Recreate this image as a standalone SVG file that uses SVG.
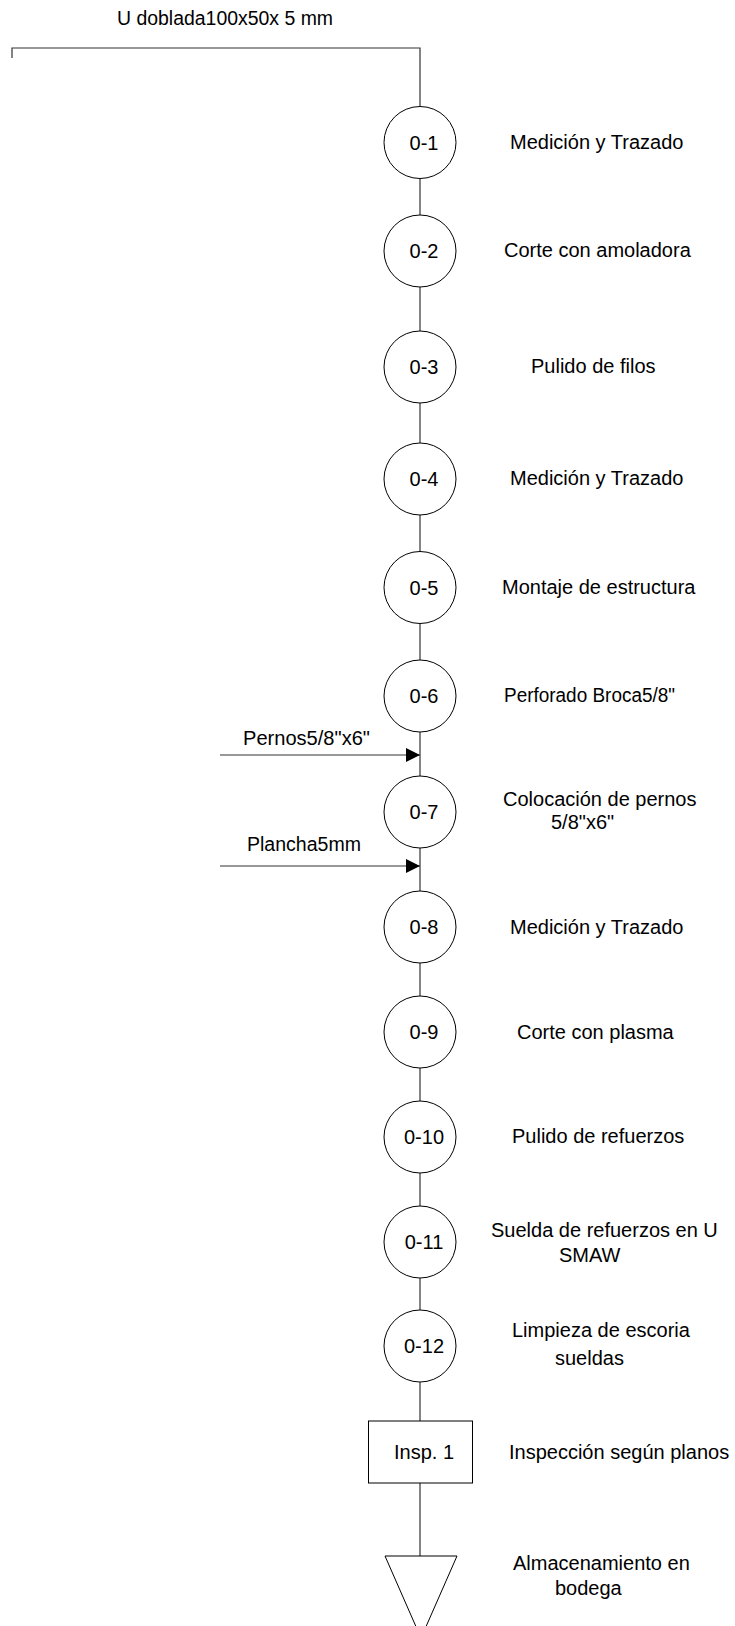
<svg xmlns="http://www.w3.org/2000/svg" width="735" height="1626" viewBox="0 0 735 1626">
  <defs>
    <style>
      text { font-family: "Liberation Sans", Arial, sans-serif; font-size: 20px; fill: #000; }
      .op { fill: #fff; stroke: #000; stroke-width: 1; }
      .code { text-anchor: middle; }
      .flow { fill: none; stroke: #333; stroke-width: 1.2; }
    </style>
    <marker id="arrowhead" markerUnits="userSpaceOnUse" markerWidth="14" markerHeight="14" refX="14" refY="7" orient="auto">
      <path d="M0,0 L14,7 L0,14 Z" fill="#000"/>
    </marker>
  </defs>

  <rect width="735" height="1626" fill="#fff"/>

  <!-- main flow line and material inputs -->
  <g id="connectors">
    <path class="flow" d="M12,58 V48 H420 V106.5"/>
    <line class="flow" x1="420" y1="178.5" x2="420" y2="215"/>
    <line class="flow" x1="420" y1="287" x2="420" y2="331"/>
    <line class="flow" x1="420" y1="403" x2="420" y2="443"/>
    <line class="flow" x1="420" y1="515" x2="420" y2="551.5"/>
    <line class="flow" x1="420" y1="623.5" x2="420" y2="660"/>
    <line class="flow" x1="420" y1="732" x2="420" y2="776"/>
    <line class="flow" x1="420" y1="848" x2="420" y2="891"/>
    <line class="flow" x1="420" y1="963" x2="420" y2="996"/>
    <line class="flow" x1="420" y1="1068" x2="420" y2="1101"/>
    <line class="flow" x1="420" y1="1173" x2="420" y2="1206"/>
    <line class="flow" x1="420" y1="1278" x2="420" y2="1310"/>
    <line class="flow" x1="420" y1="1382" x2="420" y2="1421"/>
    <line class="flow" x1="420" y1="1483" x2="420" y2="1556"/>
    <line class="flow" x1="220" y1="755" x2="420" y2="755" marker-end="url(#arrowhead)"/>
    <line class="flow" x1="220" y1="866" x2="420" y2="866" marker-end="url(#arrowhead)"/>
  </g>

  <g id="material-u">
    <text x="117" y="25" textLength="216" lengthAdjust="spacingAndGlyphs">U doblada100x50x 5 mm</text>
  </g>
  <g id="material-pernos">
    <text x="243" y="745" textLength="127" lengthAdjust="spacingAndGlyphs">Pernos5/8"x6"</text>
  </g>
  <g id="material-plancha">
    <text x="247" y="851" textLength="114" lengthAdjust="spacingAndGlyphs">Plancha5mm</text>
  </g>

  <g id="op-1">
    <circle class="op" cx="420" cy="142.5" r="36"/>
    <text class="code" x="424" y="149.5">0-1</text>
    <text x="510" y="149">Medición y Trazado</text>
  </g>
  <g id="op-2">
    <circle class="op" cx="420" cy="251" r="36"/>
    <text class="code" x="424" y="258">0-2</text>
    <text x="504" y="257">Corte con amoladora</text>
  </g>
  <g id="op-3">
    <circle class="op" cx="420" cy="367" r="36"/>
    <text class="code" x="424" y="374">0-3</text>
    <text x="531" y="373">Pulido de filos</text>
  </g>
  <g id="op-4">
    <circle class="op" cx="420" cy="479" r="36"/>
    <text class="code" x="424" y="486">0-4</text>
    <text x="510" y="485">Medición y Trazado</text>
  </g>
  <g id="op-5">
    <circle class="op" cx="420" cy="587.5" r="36"/>
    <text class="code" x="424" y="594.5">0-5</text>
    <text x="502" y="594">Montaje de estructura</text>
  </g>
  <g id="op-6">
    <circle class="op" cx="420" cy="696" r="36"/>
    <text class="code" x="424" y="703">0-6</text>
    <text x="504" y="702" textLength="171" lengthAdjust="spacingAndGlyphs">Perforado Broca5/8"</text>
  </g>
  <g id="op-7">
    <circle class="op" cx="420" cy="812" r="36"/>
    <text class="code" x="424" y="819">0-7</text>
    <text x="503" y="806">Colocación de pernos</text>
    <text x="551" y="829">5/8"x6"</text>
  </g>
  <g id="op-8">
    <circle class="op" cx="420" cy="927" r="36"/>
    <text class="code" x="424" y="934">0-8</text>
    <text x="510" y="934">Medición y Trazado</text>
  </g>
  <g id="op-9">
    <circle class="op" cx="420" cy="1032" r="36"/>
    <text class="code" x="424" y="1039">0-9</text>
    <text x="517" y="1039">Corte con plasma</text>
  </g>
  <g id="op-10">
    <circle class="op" cx="420" cy="1137" r="36"/>
    <text class="code" x="424" y="1144">0-10</text>
    <text x="512" y="1143">Pulido de refuerzos</text>
  </g>
  <g id="op-11">
    <circle class="op" cx="420" cy="1242" r="36"/>
    <text class="code" x="424" y="1249">0-11</text>
    <text x="491" y="1237">Suelda de refuerzos en U</text>
    <text x="559" y="1262">SMAW</text>
  </g>
  <g id="op-12">
    <circle class="op" cx="420" cy="1346" r="36"/>
    <text class="code" x="424" y="1353">0-12</text>
    <text x="512" y="1337">Limpieza de escoria</text>
    <text x="555" y="1365">sueldas</text>
  </g>
  <g id="insp-1">
    <rect class="op" x="368.5" y="1421" width="104" height="62"/>
    <text class="code" x="424" y="1459">Insp. 1</text>
    <text x="509" y="1459">Inspección según planos</text>
  </g>
  <g id="storage">
    <polygon class="op" points="385,1556 457,1556 421,1638"/>
    <text x="513" y="1570">Almacenamiento en</text>
    <text x="555" y="1595">bodega</text>
  </g>
</svg>
